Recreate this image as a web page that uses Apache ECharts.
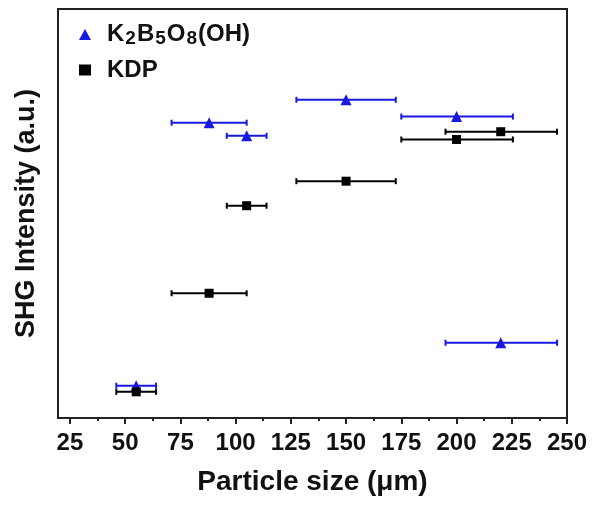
<!DOCTYPE html>
<html><head><meta charset="utf-8">
<script src="https://cdn.jsdelivr.net/npm/echarts@6/dist/echarts.min.js"></script>
<style>html,body{margin:0;padding:0;background:#fff}#c{width:592px;height:506px}</style>
</head><body><div id="c"></div>
<script>
// particle size centres (µm)
const sizes = [55, 88, 105, 150, 200, 220];
// error-bar ranges (µm)
const sizeLow  = [46, 71, 96, 127.5, 175, 195];
const sizeHigh = [64, 105, 114, 172.5, 225.5, 245.5];
// SHG intensity (a.u.)
const k2b5 = [7.9, 72.2, 69.0, 77.8, 73.7, 18.4];
const kdp  = [6.4, 30.5, 51.9, 57.9, 68.1, 70.0];
// axis ticks
const majorTicks = [25, 50, 75, 100, 125, 150, 175, 200, 225, 250];
const minorTicks = [37.5, 62.5, 87.5, 112.5, 137.5, 162.5, 187.5, 212.5, 237.5];

const BLUE = '#1818e0', BLACK = '#000000';
const FONT = 'Liberation Sans, Arial, sans-serif';

function errData(vals){ return sizes.map((s,i)=>[s, vals[i], sizeLow[i], sizeHigh[i]]); }
function errSeries(vals, color, name){
  return {
    type:'custom', name:name, data: errData(vals), xAxisIndex:0, yAxisIndex:0,
    silent:true,
    renderItem:function(params, api){
      const y = api.value(1);
      const a = api.coord([api.value(2), y]);
      const b = api.coord([api.value(3), y]);
      const cap = 3;
      const st = {stroke: color, lineWidth: 2};
      return {type:'group', children:[
        {type:'line', shape:{x1:a[0],y1:a[1],x2:b[0],y2:b[1]}, style:st},
        {type:'line', shape:{x1:a[0],y1:a[1]-cap,x2:a[0],y2:a[1]+cap}, style:st},
        {type:'line', shape:{x1:b[0],y1:b[1]-cap,x2:b[0],y2:b[1]+cap}, style:st}
      ]};
    }
  };
}

const chart = echarts.init(document.getElementById('c'));
chart.setOption({
  animation:false,
  backgroundColor:'#fff',
  grid:{left:58, right:25, top:9, bottom:88, show:true, borderColor:'#222', borderWidth:2, backgroundColor:'transparent'},
  legend:{
    orient:'vertical', left:79, top:21, itemGap:10, itemWidth:12, itemHeight:11, padding:0,
    data:['K2B5O8(OH)','KDP'],
    textStyle:{fontFamily:FONT, fontWeight:'bold', fontSize:24, color:'#111',
      rich:{
        g:{width:11, fontSize:10},
        n:{fontFamily:FONT, fontWeight:'bold', fontSize:24, color:'#111', lineHeight:26},
        s:{fontFamily:FONT, fontWeight:'bold', fontSize:19, color:'#111', lineHeight:26, padding:[8,1,0,1]}
      }},
    formatter:function(name){
      if(name==='KDP') return '{g| }{n|KDP}';
      return '{g| }{n|K}{s|2}{n|B}{s|5}{n|O}{s|8}{n|(OH)}';
    }
  },
  xAxis:[{
    type:'value', min:19.6, max:250,
    name:'Particle size (μm)', nameLocation:'middle', nameGap:50,
    nameTextStyle:{fontFamily:FONT, fontWeight:'bold', fontSize:28, color:'#111'},
    axisLine:{show:true, lineStyle:{color:'#222', width:2}},
    axisTick:{show:true, inside:false, length:6, lineStyle:{color:'#222', width:2}, customValues:majorTicks},
    axisLabel:{show:true, margin:13, fontFamily:FONT, fontWeight:'bold', fontSize:24, color:'#111', customValues:majorTicks},
    splitLine:{show:false}
  },{
    type:'value', min:19.6, max:250, position:'bottom',
    axisLine:{show:false},
    axisTick:{show:true, inside:false, length:3, lineStyle:{color:'#222', width:2}, customValues:minorTicks},
    axisLabel:{show:false}, splitLine:{show:false}
  }],
  yAxis:{
    type:'value', min:0, max:100,
    name:'SHG Intensity (a.u.)', nameLocation:'middle', nameGap:18,
    nameTextStyle:{fontFamily:FONT, fontWeight:'bold', fontSize:27, color:'#111'},
    axisLine:{show:true, lineStyle:{color:'#222', width:2}},
    axisTick:{show:false}, axisLabel:{show:false}, splitLine:{show:false}
  },
  series:[
    errSeries(k2b5, BLUE, 'errK2'),
    {type:'scatter', name:'K2B5O8(OH)', data:sizes.map((s,i)=>[s,k2b5[i]]), symbol:'triangle', symbolSize:11, itemStyle:{color:BLUE, opacity:1}, z:3},
    errSeries(kdp, BLACK, 'errKDP'),
    {type:'scatter', name:'KDP', data:sizes.map((s,i)=>[s,kdp[i]]), symbol:'rect', symbolSize:9, itemStyle:{color:BLACK, opacity:1}, z:4}
  ]
});
</script></body></html>
